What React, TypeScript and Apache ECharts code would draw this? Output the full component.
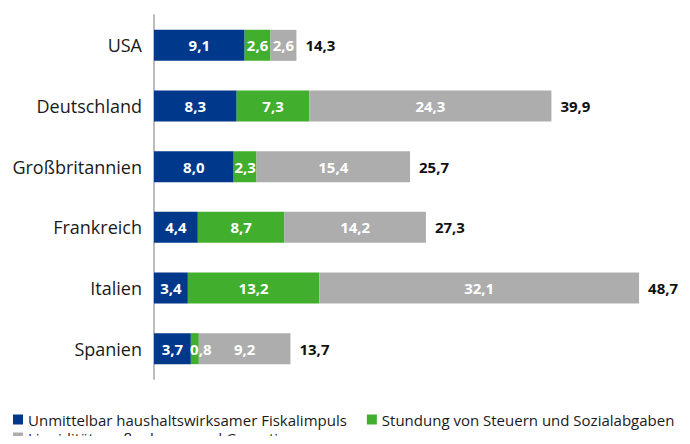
import React, { useEffect, useRef } from "react";
import * as echarts from "echarts";

const categories = ["USA", "Deutschland", "Großbritannien", "Frankreich", "Italien", "Spanien"];
const fiskalimpuls = [9.1, 8.3, 8.0, 4.4, 3.4, 3.7];
const stundung = [2.6, 7.3, 2.3, 8.7, 13.2, 0.8];
const liquiditaet = [2.6, 24.3, 15.4, 14.2, 32.1, 9.2];
const totals = [14.3, 39.9, 25.7, 27.3, 48.7, 13.7];
const seriesNames = [
  "Unmittelbar haushaltswirksamer Fiskalimpuls",
  "Stundung von Steuern und Sozialabgaben",
  "Liquiditätsmaßnahmen und Garantien",
];

const FONT = "'Open Sans', 'Noto Sans', sans-serif";
const fmt = (v: number) => v.toFixed(1).replace(".", ",");

export default function App() {
  const ref = useRef<HTMLDivElement>(null);
  useEffect(() => {
    if (!ref.current) return;
    const chart = echarts.init(ref.current, null, { renderer: "svg" });
    const colors = ["#00388C", "#41AE2D", "#ADADAD"];
    const inner = {
      show: true,
      position: "inside" as const,
      color: "#ffffff",
      fontFamily: FONT,
      fontWeight: "bold" as const,
      fontSize: 15,
      formatter: (p: any) => fmt(p.value),
    };
    const values = [fiskalimpuls, stundung, liquiditaet];
    // narrow segments: shift label slightly right so it does not collide with neighbour
    const seriesData = values.map((arr) =>
      arr.map((v) => (v < 1.5 ? { value: v, label: { offset: [6, 0] } } : v))
    );
    const legendText = { fontSize: 15, lineHeight: 17, color: "#1a1a1a", fontFamily: FONT };
    chart.setOption({
      animation: false,
      textStyle: { fontFamily: FONT },
      grid: { left: 154, right: 38, top: 15, bottom: 65, containLabel: false },
      xAxis: {
        type: "value",
        min: 0,
        max: 50,
        show: false,
      },
      yAxis: {
        type: "category",
        data: categories,
        inverse: true,
        axisLine: { show: true, lineStyle: { color: "#BDBDBD", width: 2 } },
        axisTick: { show: false },
        axisLabel: { color: "#1a1a1a", fontSize: 18, fontFamily: FONT, margin: 12 },
      },
      legend: [
        {
          data: [seriesNames[0], seriesNames[1]],
          left: 13,
          top: 411,
          padding: 0,
          itemWidth: 10,
          itemHeight: 10,
          itemGap: 20,
          icon: "rect",
          textStyle: legendText,
        },
        {
          data: [seriesNames[2]],
          left: 13,
          top: 429,
          padding: 0,
          itemWidth: 10,
          itemHeight: 10,
          icon: "rect",
          textStyle: legendText,
        },
      ],
      series: [
        ...seriesData.map((d, i) => ({
          name: seriesNames[i],
          type: "bar",
          stack: "total",
          barWidth: 31,
          data: d,
          itemStyle: { color: colors[i] },
          label: inner,
        })),
        {
          name: "Gesamt",
          type: "bar",
          barWidth: 31,
          barGap: "-100%",
          data: totals,
          z: 1,
          silent: true,
          itemStyle: { color: "rgba(0,0,0,0)" },
          label: {
            show: true,
            position: "right",
            distance: 9,
            color: "#111111",
            fontFamily: FONT,
            fontWeight: "bold",
            fontSize: 15,
            formatter: (p: any) => fmt(p.value),
          },
        },
      ],
    });
    return () => chart.dispose();
  }, []);
  return <div ref={ref} style={{ width: 690, height: 444, margin: -8 }} />;
}
